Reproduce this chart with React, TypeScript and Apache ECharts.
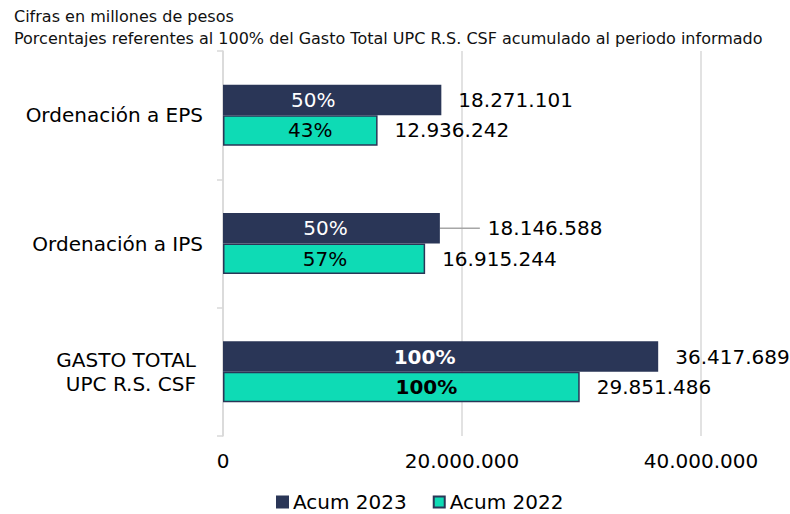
import React, { useEffect, useRef } from "react";
import * as echarts from "echarts";

// Categories listed bottom-to-top along the category axis
const categories = ["GASTO TOTAL\nUPC R.S. CSF", "Ordenación a IPS", "Ordenación a EPS"];
const acum2023 = [36417689, 18146588, 18271101];
const acum2022 = [29851486, 16915244, 12936242];
const pct2023 = [100, 50, 50];
const pct2022 = [100, 57, 43];
const xTicks = [0, 20000000, 40000000];
const titleLines = [
  "Cifras en millones de pesos",
  "Porcentajes referentes al 100% del Gasto Total UPC R.S. CSF acumulado al periodo informado",
];

// styling
const DARK = "#2a3657";
const TEAL = "#0edbb5";
const FONT = "DejaVu Sans";
const pctShift2023 = [-16, -6, -19];
const pctShift2022 = [25, 1, 10];

const fmt = (v: number) => String(Math.round(v)).replace(/\B(?=(\d{3})+(?!\d))/g, ".");

export default function App() {
  const ref = useRef<HTMLDivElement>(null);
  useEffect(() => {
    document.body.style.margin = "0";
    const chart = echarts.init(ref.current!, null, { renderer: "svg" });
    const mainSeries = (
      name: string,
      stack: string,
      vals: number[],
      pcts: number[],
      shifts: number[],
      color: string,
      textColor: string
    ) => ({
      name,
      type: "bar",
      stack,
      barGap: "0%",
      barCategoryGap: "52.5%",
      itemStyle: { color, borderColor: DARK, borderWidth: 1.5 },
      label: {
        show: true,
        position: "inside",
        fontSize: 20,
        fontFamily: FONT,
        color: textColor,
        formatter: (p: any) => pcts[p.dataIndex] + "%",
      },
      data: vals.map((v, i) => ({
        value: v,
        label: {
          offset: [shifts[i], 0],
          fontWeight: i === 0 ? "bold" : "normal",
        },
      })),
    });
    const valueSeries = (stack: string, vals: number[], leaderIndex: number) => ({
      type: "bar",
      stack,
      itemStyle: { color: "transparent", borderWidth: 0 },
      label: {
        show: true,
        position: "right",
        distance: 17,
        fontSize: 20,
        fontFamily: FONT,
        color: "#000",
        formatter: (p: any) =>
          p.dataIndex === leaderIndex ? "{gap|}" + fmt(vals[p.dataIndex]) : fmt(vals[p.dataIndex]),
        rich: { gap: { width: 8, height: 10 } },
      },
      labelLine: { show: false },
      labelLayout: (p: any) => (p.dataIndex === leaderIndex ? { dx: 23 } : {}),
      data: vals.map((_, i) =>
        i === leaderIndex
          ? {
              value: 0,
              labelLine: { show: true, lineStyle: { color: "#a6a6a6", width: 1.5 } },
            }
          : { value: 0 }
      ),
      tooltip: { show: false },
    });
    chart.setOption({
      animation: false,
      textStyle: { fontFamily: FONT },
      title: {
        text: titleLines.join("\n"),
        left: 9,
        top: 0,
        textStyle: { fontSize: 16, fontWeight: "normal", color: "#111", lineHeight: 22, fontFamily: FONT },
      },
      grid: { left: 223, right: 89, top: 51, bottom: 78, containLabel: false },
      legend: {
        data: ["Acum 2023", "Acum 2022"],
        left: 271,
        top: 487,
        icon: "rect",
        itemWidth: 11,
        itemHeight: 11,
        itemGap: 26,
        textStyle: { fontSize: 20, color: "#000", fontFamily: FONT, lineHeight: 20 },
      },
      xAxis: {
        type: "value",
        min: xTicks[0],
        max: xTicks[xTicks.length - 1],
        interval: xTicks[1] - xTicks[0],
        axisLine: { show: false },
        axisTick: { show: false },
        splitLine: { show: true, lineStyle: { color: "#d9d9d9", width: 1.5 } },
        axisLabel: {
          fontSize: 20,
          color: "#000",
          margin: 15,
          fontFamily: FONT,
          formatter: (v: number) => fmt(v),
        },
      },
      yAxis: {
        type: "category",
        data: categories,
        axisLine: { show: true, lineStyle: { color: "#d9d9d9", width: 1.5 } },
        axisTick: { show: true, length: 6, lineStyle: { color: "#d9d9d9", width: 1.5 } },
        axisLabel: {
          fontSize: 20,
          color: "#000",
          margin: 20,
          lineHeight: 24,
          fontFamily: FONT,
          formatter: (v: string, i: number) => (i === 0 ? "{g|" + v + "}" : v),
          rich: { g: { fontSize: 20, lineHeight: 24, padding: [0, 7, 0, 0], fontFamily: FONT, color: "#000" } },
        },
      },
      series: [
        mainSeries("Acum 2023", "a23", acum2023, pct2023, pctShift2023, DARK, "#fff"),
        valueSeries("a23", acum2023, 1),
        mainSeries("Acum 2022", "a22", acum2022, pct2022, pctShift2022, TEAL, "#000"),
        valueSeries("a22", acum2022, -1),
      ],
    });
    return () => chart.dispose();
  }, []);
  return <div ref={ref} style={{ width: 790, height: 514 }} />;
}
